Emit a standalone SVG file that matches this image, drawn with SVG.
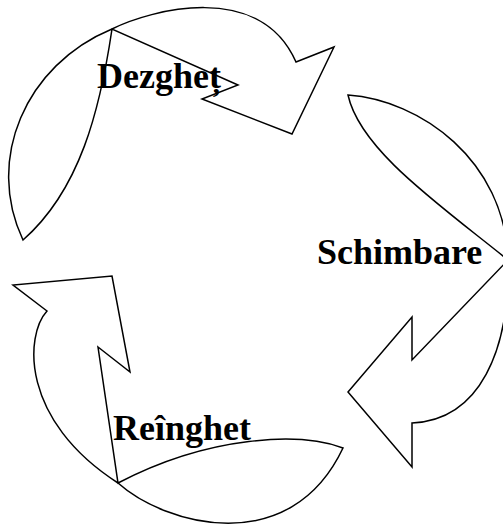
<svg xmlns="http://www.w3.org/2000/svg" width="503" height="524" viewBox="0 0 503 524">
<style>
.arrow{fill:none;stroke:#000;stroke-width:1.5;stroke-linejoin:miter}
.lbl{font-family:"Liberation Serif","Times New Roman",serif;font-weight:bold;font-size:36px;fill:#000}
</style>
<rect width="503" height="524" fill="#fff"/>
<g id="connectors">
<path class="arrow" d="M23,240 C-15,160 25,65 112,29 C150,10 260,-20 296,62 L334,47 L292,134 L202,99 L238,85 L112,29 C100,110 80,190 23,240 Z"/>
<path class="arrow" d="M348,95 C420,100 505,160 508,260 C510,350 480,420 412,423 L412,467 L348,392 L412,317 L412,360 L508,260 C440,205 360,150 348,95 Z"/>
<path class="arrow" d="M98,347 L130,372 L112,276 L13,285 L47,311 C25,335 20,420 118,483 C165,525 290,560 343,448 C300,432 210,435 118,483 Z"/>
</g>
<g id="node-dezghet"><text class="lbl" x="97" y="88">Dezgheț</text></g>
<g id="node-schimbare"><text class="lbl" x="317" y="264">Schimbare</text></g>
<g id="node-reinghet"><text class="lbl" x="113" y="440">Reînghet</text></g>
</svg>
